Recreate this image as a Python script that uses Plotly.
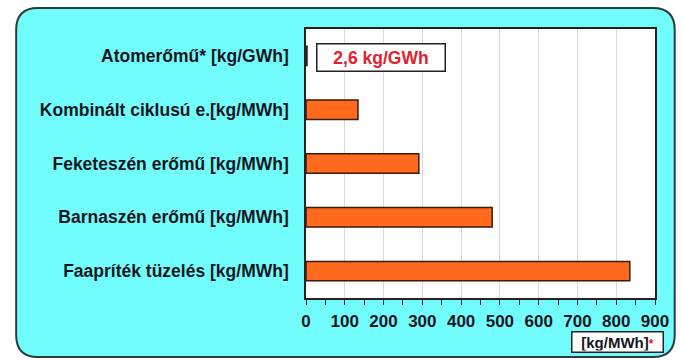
import plotly.graph_objects as go

# Emission by plant type (bars are on the kg/MWh axis; the nuclear value is given in kg/GWh)
categories = [
    "Atomerőmű* [kg/GWh]",
    "Kombinált ciklusú e.[kg/MWh]",
    "Feketeszén erőmű [kg/MWh]",
    "Barnaszén erőmű [kg/MWh]",
    "Faapríték tüzelés [kg/MWh]",
]
values = [2.6, 134, 291, 480, 835]
x_ticks = [0, 100, 200, 300, 400, 500, 600, 700, 800, 900]
nuclear_label = "2,6 kg/GWh"
unit_label = "[kg/MWh]"

W, H = 681, 360
ML, MR, MT, MB = 306, 21, 29, 62
PW, PH = W - ML - MR, H - MT - MB

FONT = "Liberation Sans, Arial, sans-serif"
TEXT = "#16161E"
RED = "#E3202C"
BAR = "#FF6A1C"
BAR_EDGE = "#3A1A08"
PANEL = "#72FDFD"
EDGE = "#2E3B3B"


def px(x):
    return (x - ML) / PW


def py(y):
    return (H - MB - y) / PH


def rounded_rect(x0, y0, x1, y1, r):
    pts = [
        f"M{px(x0 + r)},{py(y0)}",
        f"L{px(x1 - r)},{py(y0)}",
        f"Q{px(x1)},{py(y0)} {px(x1)},{py(y0 + r)}",
        f"L{px(x1)},{py(y1 - r)}",
        f"Q{px(x1)},{py(y1)} {px(x1 - r)},{py(y1)}",
        f"L{px(x0 + r)},{py(y1)}",
        f"Q{px(x0)},{py(y1)} {px(x0)},{py(y1 - r)}",
        f"L{px(x0)},{py(y0 + r)}",
        f"Q{px(x0)},{py(y0)} {px(x0 + r)},{py(y0)}",
        "Z",
    ]
    return " ".join(pts)


fig = go.Figure(
    go.Bar(
        x=values,
        y=categories,
        orientation="h",
        marker=dict(color=BAR, line=dict(color=BAR_EDGE, width=1.5)),
        hoverinfo="skip",
    )
)

fig.update_layout(
    width=W,
    height=H,
    margin=dict(l=ML, r=MR, t=MT, b=MB),
    paper_bgcolor="white",
    plot_bgcolor="rgba(0,0,0,0)",
    bargap=0.64,
    showlegend=False,
    font=dict(family=FONT, color=TEXT),
    shapes=[
        dict(type="path", xref="paper", yref="paper", path=rounded_rect(12, 8, 680, 357, 22),
             fillcolor=PANEL, line=dict(color=EDGE, width=2), layer="below"),
        dict(type="rect", xref="paper", yref="paper", x0=0, x1=1, y0=0, y1=1,
             fillcolor="white", line=dict(width=0), layer="below"),
    ],
    annotations=[
        dict(text=nuclear_label, xref="paper", yref="paper", x=px(316), y=py(57.5),
             xanchor="left", yanchor="middle", showarrow=False,
             font=dict(family=FONT, size=17.5, color=RED, weight="bold"),
             bgcolor="white", bordercolor="#222222", borderwidth=1.5,
             width=125, height=24, align="center"),
        dict(text=unit_label + f"<span style='color:{RED};font-size:12px'>*</span>",
             xref="paper", yref="paper", x=px(575), y=py(341.5),
             xanchor="left", yanchor="middle", showarrow=False,
             font=dict(family=FONT, size=15, color=TEXT, weight="bold"),
             bgcolor="white", bordercolor="#222222", borderwidth=1.5,
             width=88, height=17, align="center"),
    ],
)

fig.update_xaxes(
    range=[0, 900],
    tickvals=x_ticks,
    ticktext=[str(t) for t in x_ticks],
    tickfont=dict(family=FONT, size=17, color=TEXT, weight="bold"),
    ticks="outside",
    ticklen=5,
    tickcolor="#222222",
    ticklabelstandoff=2,
    minor=dict(dtick=50, ticks="outside", ticklen=5, tickcolor="#222222", showgrid=False),
    showgrid=True,
    gridcolor="#D9D9D9",
    gridwidth=1,
    showline=True,
    linecolor="#222222",
    linewidth=1.5,
    mirror=True,
    zeroline=False,
    fixedrange=True,
)

fig.update_yaxes(
    categoryorder="array",
    categoryarray=categories,
    autorange="reversed",
    tickfont=dict(family=FONT, size=17.5, color=TEXT, weight="bold"),
    ticks="",
    ticklabelstandoff=12,
    showgrid=False,
    showline=True,
    linecolor="#222222",
    linewidth=1.5,
    mirror=True,
    fixedrange=True,
)

fig.write_html("out.html", config=dict(displayModeBar=False))
